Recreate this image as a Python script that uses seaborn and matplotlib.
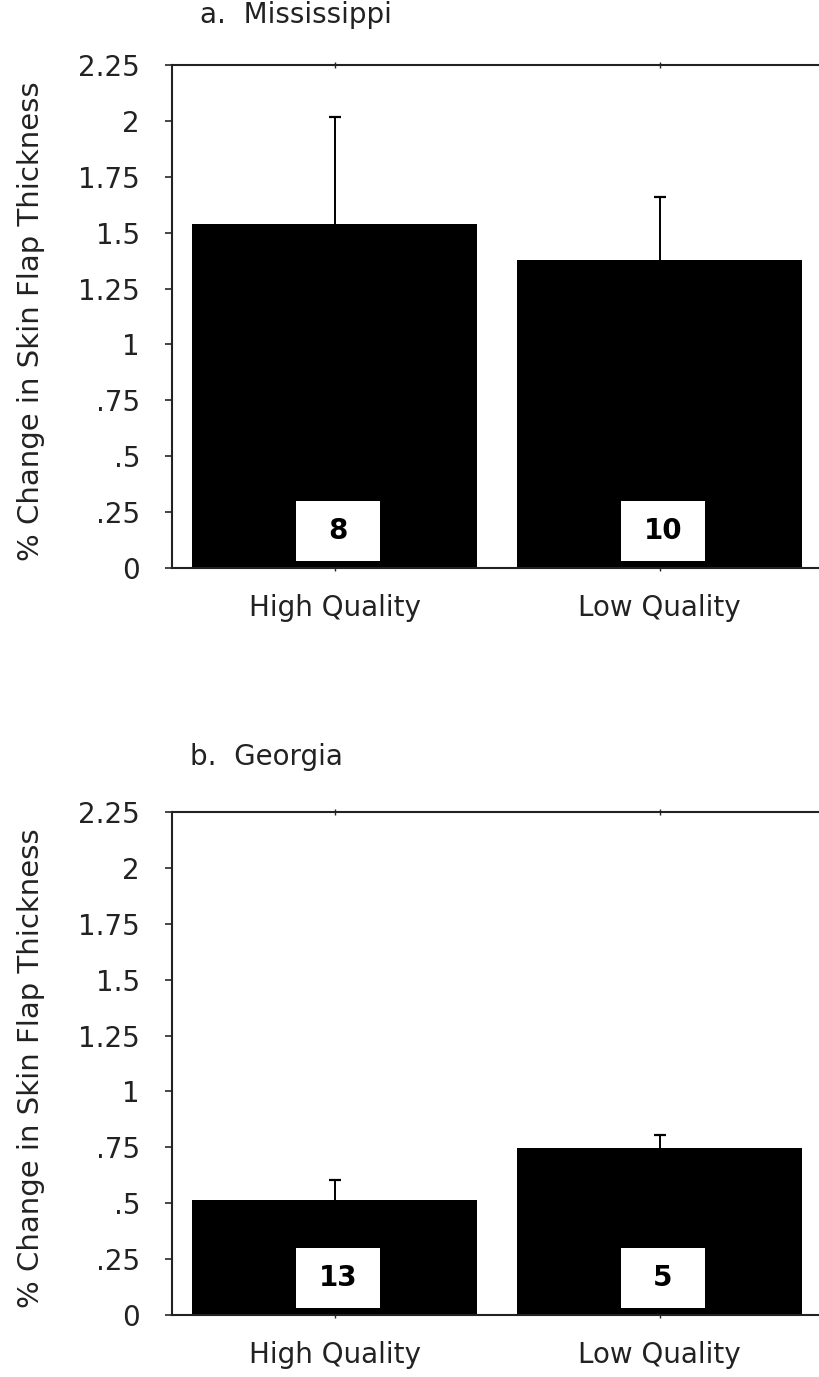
import matplotlib
matplotlib.use("Agg")
import matplotlib.pyplot as plt
import seaborn as sns
import pandas as pd
from matplotlib.patches import Rectangle

# ---- data ----
groups = ["High Quality", "Low Quality"]
ms_means = [1.538, 1.377]
ms_err = [0.48, 0.283]
ms_n = [8, 10]
ga_means = [0.515, 0.747]
ga_err = [0.087, 0.06]
ga_n = [13, 5]
yticks = [0, 0.25, 0.5, 0.75, 1.0, 1.25, 1.5, 1.75, 2.0, 2.25]
ytick_labels = ["0", ".25", ".5", ".75", "1", "1.25", "1.5", "1.75", "2", "2.25"]
titles = ["a.  Mississippi", "b.  Georgia"]
ylabel = "% Change in Skin Flap Thickness"

sns.set_style("ticks")
plt.rcParams["font.family"] = ["DejaVu Sans"]
FS = 20

fig = plt.figure(figsize=(8.19, 13.77), dpi=100)
ax1 = fig.add_axes([0.21, 0.5875, 0.79, 0.3653])
ax2 = fig.add_axes([0.21, 0.045, 0.79, 0.3653])

panels = [
    (ax1, ms_means, ms_err, ms_n, titles[0], 0.043, 1.10),
    (ax2, ga_means, ga_err, ga_n, titles[1], 0.028, 1.11),
]

for ax, means, errs, ns, title, tx, ty in panels:
    df = pd.DataFrame({"group": groups, "value": means})
    sns.barplot(data=df, x="group", y="value", color="black", saturation=1,
                width=0.877, errorbar=None, ax=ax, linewidth=0)
    centers = [p.get_x() + p.get_width() / 2 for p in ax.patches]
    tops = [m + e for m, e in zip(means, errs)]
    # one-sided (upper) error bars
    ax.vlines(centers, means, tops, colors="black", linewidth=1.4, zorder=1)
    ax.scatter(centers, tops, marker="_", s=70, color="black",
               linewidths=1.6, zorder=1)
    # sample-size boxes
    bw, bh, by = 0.26, 0.27, 0.03
    for c, n in zip(centers, ns):
        ax.add_patch(Rectangle((c - bw / 2 + 0.01, by), bw, bh, facecolor="white",
                               edgecolor="none", zorder=3))
        ax.text(c + 0.01, by + bh / 2, str(n), ha="center", va="center",
                fontsize=20, fontweight="bold", color="black", zorder=4)
    ax.set_xlim(-0.5, 1.49)
    ax.set_ylim(0, 2.25)
    ax.set_yticks(yticks)
    ax.set_yticklabels(ytick_labels, fontsize=FS, color="#222222")
    ax.set_xticks(range(len(groups)))
    ax.set_xticklabels(groups, fontsize=FS, color="#222222")
    ax.set_xlabel("")
    ax.set_ylabel(ylabel, fontsize=21, color="#222222")
    ax.yaxis.set_label_coords(-0.196, 0.49)
    ax.tick_params(axis="y", direction="out", length=5, width=1.2, pad=18)
    ax.tick_params(axis="x", direction="inout", length=5, width=1.0, pad=16,
                   top=True)
    for s in ["left", "bottom", "top"]:
        ax.spines[s].set_visible(True)
        ax.spines[s].set_linewidth(1.5)
        ax.spines[s].set_color("#222222")
    ax.spines["right"].set_visible(False)
    ax.text(tx, ty, title, transform=ax.transAxes, fontsize=FS,
            ha="left", va="center", color="#222222")

fig.savefig("out.png", dpi=100)
